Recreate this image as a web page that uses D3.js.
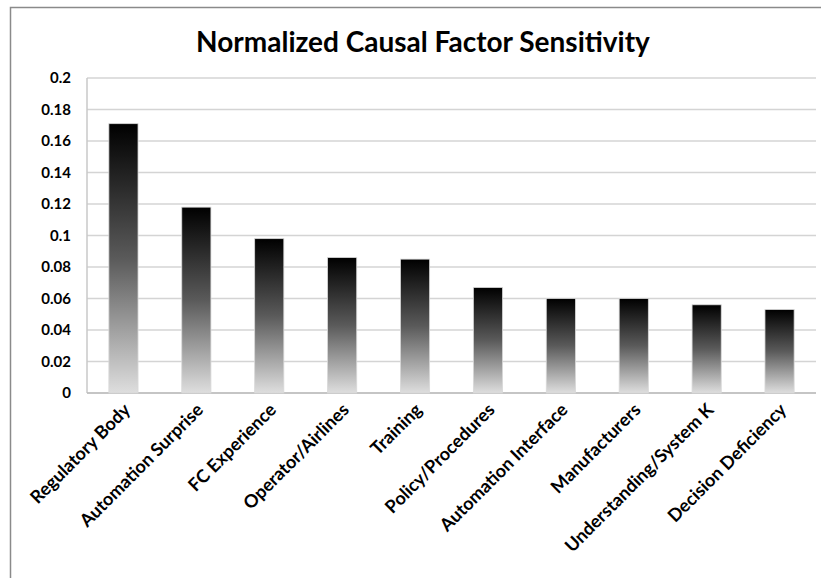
<!DOCTYPE html>
<html>
<head>
<meta charset="utf-8">
<script src="https://cdn.jsdelivr.net/npm/d3@7"></script>
<style>
  body { margin: 0; background: #fff; }
  text { font-family: Lato, "Open Sans", sans-serif; }
</style>
</head>
<body>
<svg id="chart" width="821" height="578"></svg>
<script>
// chart data
var categories = ["Regulatory Body", "Automation Surprise", "FC Experience", "Operator/Airlines",
    "Training", "Policy/Procedures", "Automation Interface", "Manufacturers",
    "Understanding/System K", "Decision Deficiency"];
var values = [0.171, 0.118, 0.098, 0.086, 0.085, 0.067, 0.060, 0.060, 0.056, 0.053];
var yTicks = [0, 0.02, 0.04, 0.06, 0.08, 0.1, 0.12, 0.14, 0.16, 0.18, 0.2];
var title = "Normalized Causal Factor Sensitivity";

var svg = d3.select("#chart");
var margin = {left: 87, right: 5, top: 78, bottom: 185};
var width = 821 - margin.left - margin.right,
    height = 578 - margin.top - margin.bottom;

// outer frame
svg.append("rect")
    .attr("x", 10.5).attr("y", 7.5)
    .attr("width", 830).attr("height", 600)
    .attr("fill", "none")
    .attr("stroke", "#8a8a8a")
    .attr("stroke-width", 1.5);

var defs = svg.append("defs");
var grad = defs.append("linearGradient")
    .attr("id", "barGrad")
    .attr("x1", 0).attr("y1", 0).attr("x2", 0).attr("y2", 1);
grad.append("stop").attr("offset", "0%").attr("stop-color", "#000");
grad.append("stop").attr("offset", "50%").attr("stop-color", "#5a5a5a");
grad.append("stop").attr("offset", "100%").attr("stop-color", "#dedede");

var g = svg.append("g").attr("transform", "translate(" + margin.left + "," + margin.top + ")");

var x = d3.scaleBand().domain(categories).range([0, width]).paddingInner(0.6).paddingOuter(0.3);
var y = d3.scaleLinear().domain([0, 0.2]).range([height, 0]);

// gridlines
g.selectAll(".grid")
    .data(yTicks)
    .enter()
    .append("line")
    .attr("class", "grid")
    .attr("x1", 0).attr("x2", width)
    .attr("y1", function(d){ return y(d); })
    .attr("y2", function(d){ return y(d); })
    .attr("stroke", "#d4d4d4")
    .attr("stroke-width", 1.5);

// left axis line
g.append("line")
    .attr("x1", 0).attr("x2", 0)
    .attr("y1", 0).attr("y2", height)
    .attr("stroke", "#c8c8c8").attr("stroke-width", 1.5);
g.append("line")
    .attr("x1", 0).attr("x2", width)
    .attr("y1", height).attr("y2", height)
    .attr("stroke", "#bdbdbd").attr("stroke-width", 1.5);

// bars
g.selectAll(".bar")
    .data(values)
    .enter()
    .append("rect")
    .attr("class", "bar")
    .attr("x", function(d, i){ return x(categories[i]); })
    .attr("y", function(d){ return y(d); })
    .attr("width", x.bandwidth())
    .attr("height", function(d){ return height - y(d); })
    .attr("fill", "url(#barGrad)")
    .attr("stroke", "#d8d8d8")
    .attr("stroke-width", 0.8);

// y axis labels
var yAxis = d3.axisLeft(y).tickValues(yTicks).tickSize(0).tickPadding(16)
    .tickFormat(function(d){ return d3.format("")(+d.toFixed(2)); });
var ya = g.append("g").call(yAxis);
ya.select(".domain").remove();
ya.selectAll("text")
    .style("font-size", "15px")
    .style("font-weight", "bold")
    .attr("fill", "#000");

// x axis labels
var xAxis = d3.axisBottom(x).tickSize(0).tickPadding(0);
var xa = g.append("g").attr("transform", "translate(0," + height + ")").call(xAxis);
xa.select(".domain").remove();
xa.selectAll("text")
    .style("font-size", "18px")
    .style("font-weight", "bold")
    .attr("fill", "#000")
    .attr("text-anchor", "end")
    .attr("dy", 0)
    .attr("transform", "translate(8,18) rotate(-45)");

// title
svg.append("text")
    .attr("x", 423).attr("y", 52)
    .attr("text-anchor", "middle")
    .style("font-size", "28px")
    .style("font-weight", "bold")
    .text(title);
</script>
</body>
</html>
